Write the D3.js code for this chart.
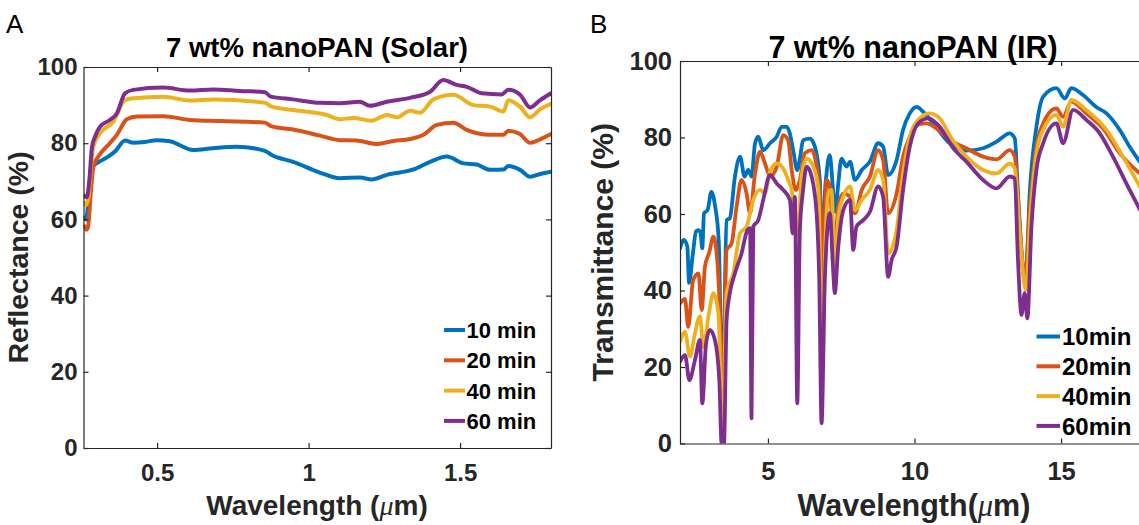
<!DOCTYPE html>
<html><head><meta charset="utf-8">
<script src="https://cdn.jsdelivr.net/npm/d3@7"></script>
<style>
html,body{margin:0;padding:0;background:#fff;}
svg{display:block;font-family:"Liberation Sans",Arial,sans-serif;}
</style></head>
<body><svg id="c" width="1139" height="525"></svg>
<script>
// ---------- Panel A: solar reflectance ----------
const solarTitle = "7 wt% nanoPAN (Solar)";
const solarLegend = ["10 min", "20 min", "40 min", "60 min"];
const solarXTicks = [0.5, 1, 1.5];
const solarYTicks = [0, 20, 40, 60, 80, 100];

const solarX10 = [0.26,0.266,0.272,0.28,0.29,0.306,0.333,0.361,0.394,0.421,0.46,0.498,0.542,0.619,0.685,0.762,0.856,0.878,0.949,1.037,1.103,1.169,1.208,1.258,1.346,1.401,1.456,1.511,1.555,1.599,1.643,1.659,1.698,1.731,1.764,1.8];
const solarY10 = [60.5,60,64,71.5,74,75,76.2,77.8,80.7,80.1,80.3,80.8,80.5,78.2,78.7,79.1,78,76.9,75.1,72.3,70.8,71,70.5,71.7,73.1,75.1,76.5,74.7,74.4,73,73.1,74,73,71.2,71.9,72.5];

const solarX20 = [0.26,0.266,0.272,0.28,0.29,0.306,0.344,0.367,0.4,0.433,0.52,0.609,0.708,0.856,0.878,0.949,1.037,1.103,1.158,1.225,1.28,1.335,1.379,1.423,1.478,1.522,1.599,1.643,1.659,1.698,1.731,1.764,1.8];
const solarY20 = [58.2,57.3,58,66,74,76.5,80,82.2,86.3,87,87.1,86.1,85.8,85.4,84.4,83.6,82,80.8,80.7,79.8,80.6,81.1,82.2,84.8,85.4,83.5,82.2,82.2,83.3,82.4,80.1,81,82.4];

const solarX40 = [0.26,0.266,0.274,0.282,0.289,0.311,0.355,0.394,0.421,0.52,0.609,0.685,0.856,0.878,0.949,1.06,1.103,1.147,1.208,1.258,1.291,1.335,1.368,1.412,1.478,1.544,1.599,1.643,1.659,1.698,1.731,1.764,1.8];
const solarY40 = [64.3,63.8,66,74,79,82.6,85.6,91.3,91.8,92.2,91.2,91.5,90.6,89.6,88.7,87.4,86.3,86.6,85.9,87.4,86.8,88.5,88,91.5,92.7,90,89.6,88.3,91.3,89.6,86.8,88.9,90.3];

const solarX60 = [0.26,0.268,0.276,0.285,0.295,0.311,0.344,0.367,0.394,0.421,0.52,0.609,0.685,0.773,0.856,0.873,0.949,1.037,1.103,1.169,1.202,1.258,1.335,1.401,1.444,1.489,1.522,1.571,1.637,1.659,1.698,1.731,1.764,1.8];
const solarY60 = [66.2,65.8,70,79,81.7,84.3,86.1,87.8,93.1,94,94.6,93.8,94.1,93.7,93.4,92.3,91.5,90.6,90.5,90.9,89.8,90.9,91.9,93.5,96.6,95.3,94.8,93.1,92.8,94,92.7,89.4,91.3,93.1];

// ---------- Panel B: IR transmittance ----------
const irTitle = "7 wt% nanoPAN (IR)";
const irLegend = ["10min", "20min", "40min", "60min"];
const irXTicks = [5, 10, 15];
const irYTicks = [0, 20, 40, 60, 80, 100];

const irX10 = [2.0,2.13,2.25,2.31,2.44,2.55,2.63,2.7,2.76,2.82,2.94,3.07,3.2,3.32,3.45,3.59,3.7,3.875,4.05,4.2,4.33,4.44,4.56,4.67,4.84,5.07,5.3,5.47,5.64,5.75,5.86,6.0,6.1,6.2,6.43,6.6,6.77,6.85,6.92,7.0,7.11,7.23,7.3,7.4,7.51,7.68,7.8,7.97,8.2,8.48,8.76,8.93,9.1,9.39,9.61,9.84,10.07,10.3,10.64,11.2,11.77,12.34,12.8,13.25,13.42,13.53,13.7,13.8,13.93,14.16,14.39,14.84,15.13,15.35,15.75,16.2,16.55,17.0,17.34,17.7];
const irY10 = [51,53.2,51.5,42,49.7,55.5,55.8,55,51,60.2,61,65.8,61.9,53.2,10,58.4,58.9,69.8,75,69.8,71.5,69.8,78.5,80.2,76.7,78.5,80.2,82.8,82.8,81,76.7,71.5,75,79.3,79.7,77.6,68.9,40,62,70.6,75.4,65.4,60.6,68,74.5,72.4,73.7,68.9,71.5,73.7,78.5,77.6,70.2,74.1,82,86.3,88,86.7,83.7,78.5,76.6,77.2,78.9,81.1,79.8,65.4,46.2,43.6,65.4,82.8,90.7,92.9,90.2,92.9,91.1,88,86.3,82,77.6,73.5];

const irX20 = [2.0,2.17,2.28,2.45,2.63,2.74,2.85,3.0,3.14,3.25,3.36,3.45,3.59,3.76,3.93,4.1,4.27,4.39,4.56,4.73,4.9,5.07,5.3,5.52,5.69,5.81,5.95,6.09,6.26,6.49,6.66,6.8,6.86,6.93,7.0,7.11,7.26,7.4,7.57,7.8,7.97,8.2,8.48,8.76,8.93,9.1,9.39,9.61,9.84,10.07,10.41,10.75,11.2,11.77,12.34,12.8,13.25,13.42,13.59,13.76,13.93,14.16,14.39,14.84,15.07,15.35,15.86,16.43,17.0,17.7];
const irY20 = [36.6,37.8,30.5,42.7,44.5,34.9,46.2,50,54.1,49.7,34,5,50.6,52.3,61.9,68.9,65.4,60.2,70.6,76.3,73.2,69.8,72.4,80.6,79.3,71.5,66.3,68.9,75.9,76.7,72.4,61.9,30,55,68.9,67.2,50,61.9,65.4,64.5,60.2,66.3,69.8,76.7,74.1,60.2,65.4,75,80.2,83.3,83.7,82.4,79.4,77.2,75,74.3,76.7,75,56.7,42.7,61,77.6,83.7,87.6,85.4,89.4,86.3,82.4,75.9,70.5];

const irX40 = [2.0,2.17,2.34,2.51,2.68,2.8,2.97,3.14,3.31,3.45,3.59,3.82,4.05,4.27,4.5,4.73,4.9,5.07,5.3,5.52,5.69,5.81,6.0,6.15,6.32,6.55,6.72,6.86,6.95,7.06,7.17,7.28,7.4,7.57,7.8,7.97,8.2,8.48,8.76,8.93,9.1,9.39,9.61,9.84,10.13,10.52,10.86,11.26,11.77,12.34,12.8,13.25,13.42,13.59,13.8,13.95,14.16,14.39,14.84,15.07,15.35,15.86,16.55,17.11,17.7];
const irY40 = [26.6,29.2,22.7,28.8,33.2,25.3,33.2,39.3,34,2,39.3,44.5,55,56.7,63.7,66.3,65.4,71.1,73.2,71.9,68.9,66.3,54,69.8,74.5,72.4,66.3,20,50,65.4,66.3,44.5,59.3,64.5,67.2,61,63.7,66.3,71.5,68.9,49.7,55.8,70.6,80.2,84.6,86.3,85,79.8,75,71.5,70.6,73.2,71.9,55,40.2,59.3,75.9,82,85.9,82.8,89.8,87.2,82,75,67];

const irX60 = [2.0,2.17,2.32,2.51,2.68,2.76,2.89,3.02,3.19,3.34,3.42,3.5,3.59,3.7,3.875,4.1,4.3,4.39,4.44,4.5,4.67,4.84,5.07,5.3,5.52,5.75,5.84,5.92,6.0,6.09,6.2,6.32,6.49,6.66,6.75,6.83,6.94,7.11,7.23,7.28,7.4,7.57,7.8,7.91,8.02,8.25,8.48,8.76,8.93,9.1,9.22,9.39,9.61,9.84,10.13,10.47,10.86,11.32,11.77,12.34,12.8,13.25,13.42,13.53,13.65,13.76,13.85,13.99,14.16,14.39,14.84,15.07,15.41,15.86,16.32,16.77,17.34,17.7];
const irY60 = [21.4,23.1,16.6,21.8,27.1,10.5,26.2,29.7,27.1,16.6,0,0,32.3,39.3,44.5,49.7,55.8,56.3,6.6,56.7,58.4,63.7,70.2,68,66.3,63.7,54.9,64.5,10.5,55.8,66.3,72.4,69.8,60.2,42.7,5.3,42.7,60.2,44.5,39.3,51.5,61,63.7,50.6,56.7,58.4,60.6,67.2,64.5,43.6,48,51.5,66.3,77.6,83.7,85,82.8,77.2,73.7,68.9,66.7,69.8,69.3,48,33.6,39.3,32.7,56.7,71.5,78.5,83.7,78.5,87.2,84.6,81.1,75,66.3,61];

const colors = ["#0072BD", "#D95319", "#EDB120", "#7E2F8E"];

// ---------- drawing ----------
const svg = d3.select("#c");
svg.append("rect").attr("width", 1139).attr("height", 525).attr("fill", "#fff");
const AX = "#262626";

function panel(o) {
  const g = svg.append("g");
  const x = d3.scaleLinear().domain(o.xDomain).range([o.left, o.right]);
  const y = d3.scaleLinear().domain([0, 100]).range([o.bottom, o.top]);

  const line = d3.line().x(d => x(d[0])).y(d => y(d[1])).curve(d3.curveMonotoneX);
  const clipId = "clip" + o.id;
  svg.append("clipPath").attr("id", clipId).append("rect")
    .attr("x", o.left).attr("y", o.top - 3).attr("width", o.right - o.left).attr("height", o.bottom - o.top + 3);
  const lg = g.append("g").attr("clip-path", `url(#${clipId})`);
  o.series.forEach((s, i) => {
    lg.append("path").datum(d3.zip(s[0], s[1]))
      .attr("fill", "none").attr("stroke", colors[i]).attr("stroke-width", o.lw)
      .attr("stroke-linejoin", "round").attr("stroke-linecap", "round").attr("d", line);
  });

  const styleAxis = sel => {
    sel.selectAll("path,line").attr("stroke", AX).attr("stroke-width", 1.2);
    sel.selectAll("text").attr("fill", AX).attr("font-size", o.tickFs).attr("font-weight", "bold")
      .attr("font-family", "Liberation Sans, Arial, sans-serif");
  };
  g.append("g").attr("transform", `translate(0,${o.bottom})`)
    .call(d3.axisBottom(x).tickValues(o.xTicks).tickSizeInner(-5).tickSizeOuter(0).tickPadding(o.xPad).tickFormat(d3.format("")))
    .call(styleAxis);
  g.append("g").attr("transform", `translate(0,${o.top})`)
    .call(d3.axisTop(x).tickValues(o.xTicks).tickSizeInner(-5).tickSizeOuter(0).tickFormat(""))
    .call(styleAxis);
  g.append("g").attr("transform", `translate(${o.left},0)`)
    .call(d3.axisLeft(y).tickValues(o.yTicks).tickSizeInner(-5).tickSizeOuter(0).tickPadding(o.yPad))
    .call(styleAxis);
  g.append("g").attr("transform", `translate(${o.right},0)`)
    .call(d3.axisRight(y).tickValues(o.yTicks).tickSizeInner(-5).tickSizeOuter(0).tickFormat(""))
    .call(styleAxis);
  g.selectAll(".domain").attr("fill", "none");

  // title
  g.append("text").attr("x", o.titleX).attr("y", o.titleY).attr("text-anchor", "middle")
    .attr("font-size", o.titleFs).attr("font-weight", "bold").attr("fill", "#000").text(o.title);
  // panel letter
  g.append("text").attr("x", o.letterX).attr("y", 33).attr("font-size", 26)
    .attr("fill", "#000").attr("font-weight", "normal").text(o.letter);
  // x label
  const xl = g.append("text").attr("x", o.xlabX).attr("y", o.xlabY).attr("text-anchor", "middle")
    .attr("font-size", o.labFs).attr("font-weight", "bold").attr("fill", AX);
  xl.append("tspan").text(o.xlab1);
  xl.append("tspan").attr("font-style", "italic").attr("font-weight", "normal")
    .attr("font-family", "Liberation Serif, serif").text("\u03BC");
  xl.append("tspan").text("m)");
  // y label
  g.append("text").attr("transform", `translate(${o.ylabX},${(o.top + o.bottom) / 2}) rotate(-90)`)
    .attr("text-anchor", "middle").attr("font-size", o.ylabFs).attr("font-weight", "bold").attr("fill", AX)
    .text(o.ylab);
  // legend
  o.legend.forEach((t, i) => {
    const yy = o.legY + i * o.legDy;
    g.append("line").attr("x1", o.legX1).attr("x2", o.legX2).attr("y1", yy).attr("y2", yy)
      .attr("stroke", colors[i]).attr("stroke-width", 4);
    g.append("text").attr("x", o.legTx).attr("y", yy).attr("dy", "0.36em")
      .attr("font-size", o.legFs).attr("font-weight", "bold").attr("fill", "#000").text(t);
  });
}

panel({
  id: "A", letter: "A", letterX: 6, title: solarTitle, titleX: 317, titleY: 57, titleFs: 27.5,
  left: 83.5, right: 551, top: 67, bottom: 448, xDomain: [0.257, 1.8],
  xTicks: solarXTicks, yTicks: solarYTicks, tickFs: 24, xPad: 16, yPad: 6,
  series: [[solarX10, solarY10], [solarX20, solarY20], [solarX40, solarY40], [solarX60, solarY60]], lw: 4,
  xlab1: "Wavelength (", xlabX: 317, xlabY: 515, labFs: 28, ylabFs: 28.5, ylab: "Reflectance (%)", ylabX: 28,
  legend: solarLegend, legX1: 444, legX2: 465, legTx: 466.5, legY: 330, legDy: 30.3, legFs: 22
});

panel({
  id: "B", letter: "B", letterX: 590, title: irTitle, titleX: 913, titleY: 58, titleFs: 30.5,
  left: 680, right: 1149, top: 61, bottom: 443.5, xDomain: [2, 18],
  xTicks: irXTicks, yTicks: irYTicks, tickFs: 25.5, xPad: 18, yPad: 8,
  series: [[irX10, irY10], [irX20, irY20], [irX40, irY40], [irX60, irY60]], lw: 3.8,
  xlab1: "Wavelength(", xlabX: 914, xlabY: 516, labFs: 30.5, ylabFs: 30, ylab: "Transmittance (%)", ylabX: 613,
  legend: irLegend, legX1: 1036.5, legX2: 1060, legTx: 1062, legY: 336.5, legDy: 29.8, legFs: 24
});
</script></body></html>
